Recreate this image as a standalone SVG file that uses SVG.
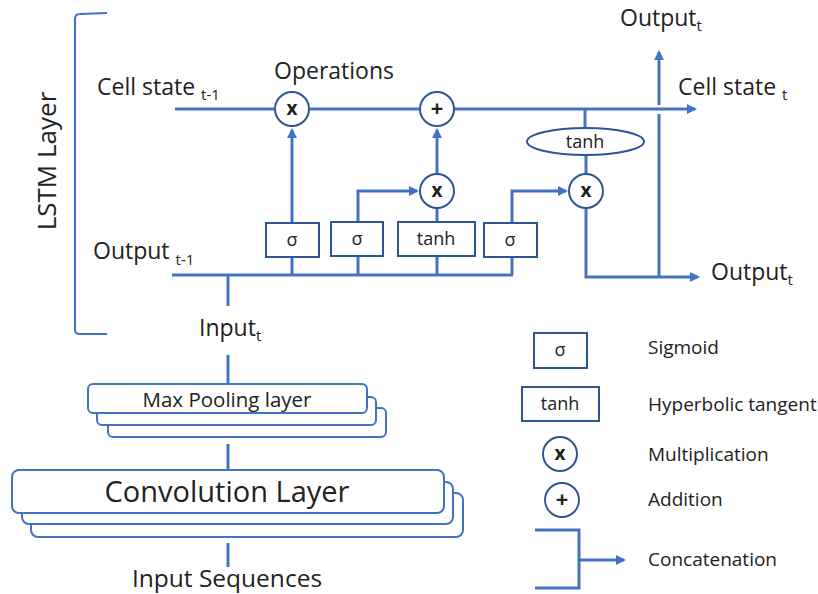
<svg xmlns="http://www.w3.org/2000/svg" width="818" height="594" viewBox="0 0 818 594">
<style>
text{font-family:"Open Sans","Noto Sans","Liberation Sans",sans-serif;fill:#222}
.ln{stroke:#4472C4;stroke-width:3;fill:none}
.br{stroke:#4472C4;stroke-width:2;fill:none}
.bx{stroke:#2F5597;stroke-width:2;fill:#fff}
.op{stroke:#2F5597;stroke-width:2;fill:#fff}
.ly{stroke:#4472C4;stroke-width:2;fill:#fff}
.sym{font-size:18px;text-anchor:middle}
.opt{font-size:19px;font-weight:bold;text-anchor:middle}
.pl{font-size:22px;font-weight:bold;text-anchor:middle}
.lab{font-size:23px}
.sub{font-size:15px}
.leg{font-size:19px}
</style>
<defs>
<marker id="ah" markerWidth="10" markerHeight="10" refX="8" refY="5" orient="auto" markerUnits="userSpaceOnUse" viewBox="0 0 10 10">
<path d="M0,0 L10,5 L0,10 z" fill="#4472C4"/>
</marker>
</defs>
<rect width="818" height="594" fill="#fff"/>

<g id="lstm-bracket">
<path class="br" d="M107,13 L80,14 Q75,14 75,19 L75,330 Q75,334 80,334 L107,334"/>
<text transform="translate(56,161) rotate(-90)" font-size="26" text-anchor="middle">LSTM Layer</text>
</g>

<g id="labels">
<text class="lab" x="97" y="95">Cell state <tspan class="sub" dy="5">t-1</tspan></text>
<text class="lab" x="93" y="259">Output <tspan class="sub" dy="6">t-1</tspan></text>
<text class="lab" x="274" y="79">Operations</text>
<text class="lab" x="678" y="95">Cell state <tspan class="sub" dy="5">t</tspan></text>
<text class="lab" x="620" y="26">Output<tspan class="sub" dy="5">t</tspan></text>
<text class="lab" x="711" y="280">Output<tspan class="sub" dy="5">t</tspan></text>
<text class="lab" x="199" y="336">Input<tspan class="sub" dy="5">t</tspan></text>
</g>

<g id="connectors">
<line class="ln" x1="175" y1="109" x2="275" y2="109"/>
<line class="ln" x1="309" y1="109" x2="420" y2="109"/>
<line class="ln" x1="454" y1="109" x2="695" y2="109" marker-end="url(#ah)"/>
<line class="ln" x1="172" y1="275" x2="513" y2="275"/>
<line class="ln" x1="228" y1="275" x2="228" y2="306"/>
<line class="ln" x1="292" y1="275" x2="292" y2="257"/>
<line class="ln" x1="292" y1="223" x2="292" y2="130" marker-end="url(#ah)"/>
<line class="ln" x1="358" y1="275" x2="358" y2="256"/>
<polyline class="ln" points="358,222 358,191 417,191" marker-end="url(#ah)"/>
<line class="ln" x1="437" y1="275" x2="437" y2="256"/>
<line class="ln" x1="437" y1="222" x2="437" y2="208"/>
<line class="ln" x1="437" y1="174" x2="437" y2="130" marker-end="url(#ah)"/>
<line class="ln" x1="512" y1="275" x2="512" y2="257"/>
<polyline class="ln" points="512,223 512,191 566,191" marker-end="url(#ah)"/>
<line class="ln" x1="585" y1="109" x2="585" y2="128"/>
<line class="ln" x1="586" y1="155" x2="586" y2="174"/>
<polyline class="ln" points="586,208 586,277 698,277" marker-end="url(#ah)"/>
<line class="ln" x1="659" y1="277" x2="659" y2="114"/>
<line class="ln" x1="659" y1="105" x2="659" y2="52" marker-end="url(#ah)"/>
<line class="ln" x1="228" y1="355" x2="228" y2="384"/>
<line class="ln" x1="228" y1="444" x2="228" y2="470"/>
<line class="ln" x1="228" y1="543" x2="228" y2="567"/>
</g>

<g id="mult1"><circle class="op" cx="292" cy="109" r="17"/><text class="opt" x="292" y="115">x</text></g>
<g id="add1"><circle class="op" cx="437" cy="109" r="17"/><text class="pl" x="437" y="116">+</text></g>
<g id="mult2"><circle class="op" cx="437" cy="191" r="17"/><text class="opt" x="437" y="197">x</text></g>
<g id="mult3"><circle class="op" cx="586" cy="191" r="17"/><text class="opt" x="586" y="197">x</text></g>
<g id="tanh-cell"><ellipse class="op" cx="585.5" cy="141.5" rx="58.5" ry="13.5"/><text class="sym" x="585" y="148">tanh</text></g>
<g id="sig1"><rect class="bx" x="266" y="223" width="53" height="34"/><text class="sym" x="292" y="246">σ</text></g>
<g id="sig2"><rect class="bx" x="331" y="222" width="52" height="34"/><text class="sym" x="357" y="245">σ</text></g>
<g id="tanh1"><rect class="bx" x="398" y="222" width="77" height="34"/><text class="sym" x="436" y="245">tanh</text></g>
<g id="sig4"><rect class="bx" x="484" y="223" width="53" height="34"/><text class="sym" x="510" y="246">σ</text></g>

<g id="maxpool">
<rect class="ly" x="108" y="408" width="278" height="29" rx="5"/>
<rect class="ly" x="97" y="397" width="279" height="28" rx="5"/>
<rect class="ly" x="88" y="384" width="279" height="29" rx="5"/>
<text x="227" y="407" font-size="20.5" text-anchor="middle">Max Pooling layer</text>
</g>

<g id="conv">
<rect class="ly" x="31" y="493" width="432" height="44" rx="7"/>
<rect class="ly" x="22" y="482" width="431" height="42" rx="7"/>
<rect class="ly" x="12" y="470" width="432" height="43" rx="7"/>
<text x="227" y="502" font-size="29" text-anchor="middle">Convolution Layer</text>
</g>

<g id="input-seq"><text x="227" y="587" font-size="24.5" text-anchor="middle">Input Sequences</text></g>

<g id="legend">
<rect class="bx" x="534" y="333" width="53" height="35"/><text class="sym" x="560" y="356">σ</text>
<text class="leg" x="648" y="354">Sigmoid</text>
<rect class="bx" x="522" y="387" width="77" height="34"/><text class="sym" x="560" y="410">tanh</text>
<text class="leg" x="648" y="411">Hyperbolic tangent</text>
<circle class="op" cx="560" cy="454" r="17"/><text class="opt" x="560" y="460">x</text>
<text class="leg" x="648" y="461">Multiplication</text>
<circle class="op" cx="562" cy="500" r="17"/><text class="pl" x="562" y="507">+</text>
<text class="leg" x="648" y="506">Addition</text>
<polyline class="ln" points="535,530 579,530 579,588 535,588"/>
<line class="ln" x1="579" y1="560" x2="624" y2="560" marker-end="url(#ah)"/>
<text class="leg" x="648" y="566">Concatenation</text>
</g>
</svg>
